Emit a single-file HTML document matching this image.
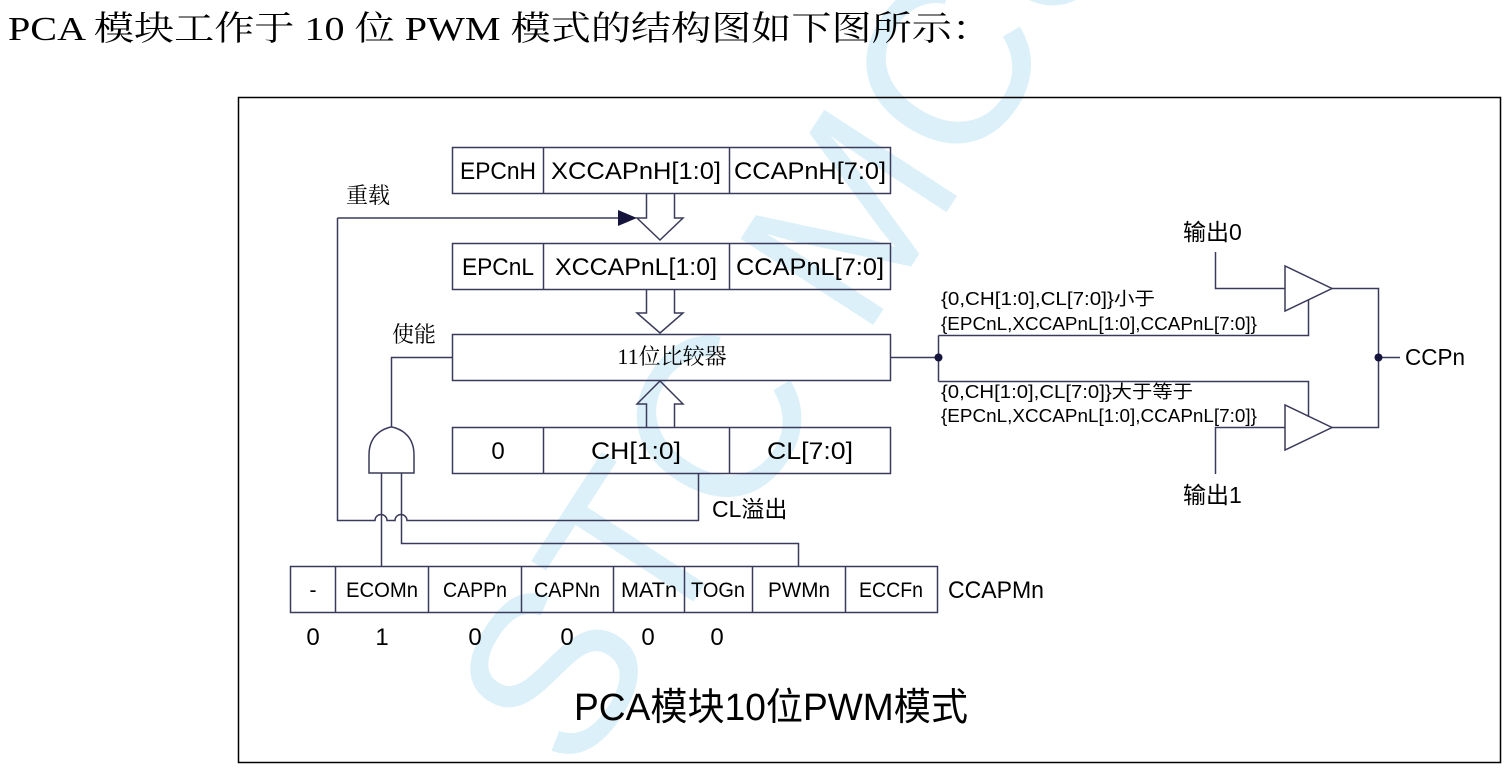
<!DOCTYPE html>
<html><head><meta charset="utf-8"><style>
html,body{margin:0;padding:0;background:#fff;width:1512px;height:776px;overflow:hidden}
svg{display:block}
.s{font-family:"Liberation Sans","Noto Sans CJK SC",sans-serif;fill:#000}
</style></head><body>
<svg width="1512" height="776" viewBox="0 0 1512 776" xmlns="http://www.w3.org/2000/svg">
<g transform="translate(800,300) rotate(-57)">
<text x="0" y="75" text-anchor="middle" font-family="Liberation Sans,sans-serif" font-size="230" fill="#dcf0f9" letter-spacing="0">STC MCU</text>
</g>
<text x="8" y="40" font-family="Liberation Serif,'Noto Serif CJK SC',serif" font-size="34" fill="#000" textLength="984" lengthAdjust="spacingAndGlyphs">PCA 模块工作于 10 位 PWM 模式的结构图如下图所示：</text>
<rect x="238.5" y="97.5" width="1262" height="665" fill="none" stroke="#000" stroke-width="1.5"/>
<g stroke="#3a3a5c" stroke-width="1.5" fill="none">
<rect x="452.5" y="147.5" width="438" height="46"/><line x1="543.5" y1="147" x2="543.5" y2="193"/><line x1="729.5" y1="147" x2="729.5" y2="193"/>
<rect x="452.5" y="243.5" width="438" height="46"/><line x1="543.5" y1="243" x2="543.5" y2="289"/><line x1="729.5" y1="243" x2="729.5" y2="289"/>
<rect x="452.5" y="334.5" width="438" height="46"/>
<rect x="452.5" y="427.5" width="438" height="46"/><line x1="543.5" y1="427" x2="543.5" y2="473"/><line x1="729.5" y1="427" x2="729.5" y2="473"/>
<path d="M646.5 193V218H637L660 240L683 218H674.5V193"/>
<path d="M646.5 289V313H637L660 333L683 313H674.5V289"/>
<path d="M646.5 427V404H637L660 381L683 404H674.5V427"/>
<path d="M337.5 218H625"/>
<path d="M337.5 218V520.5H375a6 6 0 0 1 12 0H395a6 6 0 0 1 12 0H698.5V473"/>
<path d="M369 473V455C369 430 391 427 391.5 427C392 427 414 430 414 455V473Z"/>
<path d="M391.5 427V357.5H452"/>
<path d="M381.5 473V566"/>
<path d="M401.5 473V543.5H798.5V566"/>
<rect x="290.5" y="566.5" width="647" height="46"/>
<line x1="335.5" y1="566" x2="335.5" y2="612"/><line x1="428.5" y1="566" x2="428.5" y2="612"/><line x1="521.5" y1="566" x2="521.5" y2="612"/><line x1="613.5" y1="566" x2="613.5" y2="612"/><line x1="684.5" y1="566" x2="684.5" y2="612"/><line x1="752.5" y1="566" x2="752.5" y2="612"/><line x1="845.5" y1="566" x2="845.5" y2="612"/>
<path d="M890 357.5H938.5"/>
<path d="M1378.5 357.5H1400"/>
<path d="M938.5 335.5V381.5"/>
<path d="M938.5 335.5H1308.5V300"/>
<path d="M938.5 381.5H1308.5V417"/>
<path d="M1285 266V311L1332 288.5Z"/>
<path d="M1285 405V450L1332 427.5Z"/>
<path d="M1215.5 252V288.5H1285"/>
<path d="M1215.5 474V427.5H1285"/>
<path d="M1332 288.5H1378.5V427.5H1332"/>
</g>
<path d="M618 210L637 218L618 226Z" fill="#14143c"/>
<circle cx="938.5" cy="357.5" r="4" fill="#14143c"/>
<circle cx="1378.5" cy="357.5" r="4" fill="#14143c"/>
<g class="s" font-size="24" text-anchor="middle">
<text x="498" y="179" textLength="76" lengthAdjust="spacingAndGlyphs">EPCnH</text><text x="636" y="179" textLength="170" lengthAdjust="spacingAndGlyphs">XCCAPnH[1:0]</text><text x="810" y="179" textLength="152" lengthAdjust="spacingAndGlyphs">CCAPnH[7:0]</text>
<text x="498" y="275" textLength="72" lengthAdjust="spacingAndGlyphs">EPCnL</text><text x="636" y="275" textLength="162" lengthAdjust="spacingAndGlyphs">XCCAPnL[1:0]</text><text x="810" y="275" textLength="148" lengthAdjust="spacingAndGlyphs">CCAPnL[7:0]</text>
<text x="498" y="459">0</text><text x="636" y="459" textLength="90" lengthAdjust="spacingAndGlyphs">CH[1:0]</text><text x="810" y="459" textLength="86" lengthAdjust="spacingAndGlyphs">CL[7:0]</text>
</g>
<text x="672" y="364" text-anchor="middle" font-family="Liberation Serif,'Noto Serif CJK SC',serif" font-size="22">11位比较器</text>
<g class="s" font-size="22">
<text x="346" y="203" font-family="'Noto Serif CJK SC',serif">重载</text>
<text x="392" y="342" font-family="'Noto Serif CJK SC',serif">使能</text>
<text x="712" y="517" font-size="23">CL溢出</text>
<text x="1183" y="240" font-size="23">输出0</text>
<text x="1183" y="503" font-size="23">输出1</text>
<text x="1405" y="365" font-size="23" textLength="60" lengthAdjust="spacingAndGlyphs">CCPn</text>
<text x="948" y="598" font-size="24" textLength="96" lengthAdjust="spacingAndGlyphs">CCAPMn</text>
</g>
<g class="s" font-size="18">
<text x="941" y="305" textLength="214" lengthAdjust="spacingAndGlyphs">{0,CH[1:0],CL[7:0]}小于</text>
<text x="941" y="330" textLength="316" lengthAdjust="spacingAndGlyphs">{EPCnL,XCCAPnL[1:0],CCAPnL[7:0]}</text>
<text x="941" y="398" textLength="252" lengthAdjust="spacingAndGlyphs">{0,CH[1:0],CL[7:0]}大于等于</text>
<text x="941" y="422" textLength="316" lengthAdjust="spacingAndGlyphs">{EPCnL,XCCAPnL[1:0],CCAPnL[7:0]}</text>
</g>
<g class="s" font-size="21" text-anchor="middle">
<text x="313" y="597">-</text><text x="382" y="597" textLength="72" lengthAdjust="spacingAndGlyphs">ECOMn</text><text x="475" y="597" textLength="64" lengthAdjust="spacingAndGlyphs">CAPPn</text><text x="567" y="597" textLength="66" lengthAdjust="spacingAndGlyphs">CAPNn</text><text x="649" y="597" textLength="56" lengthAdjust="spacingAndGlyphs">MATn</text><text x="718" y="597" textLength="54" lengthAdjust="spacingAndGlyphs">TOGn</text><text x="799" y="597" textLength="62" lengthAdjust="spacingAndGlyphs">PWMn</text><text x="891" y="597" textLength="64" lengthAdjust="spacingAndGlyphs">ECCFn</text>
</g>
<g class="s" font-size="24" text-anchor="middle">
<text x="313" y="645">0</text><text x="382" y="645">1</text><text x="475" y="645">0</text><text x="567" y="645">0</text><text x="648" y="645">0</text><text x="717" y="645">0</text>
</g>
<text x="771" y="720" text-anchor="middle" class="s" font-size="38" textLength="394" lengthAdjust="spacingAndGlyphs">PCA模块10位PWM模式</text>
</svg>
</body></html>
